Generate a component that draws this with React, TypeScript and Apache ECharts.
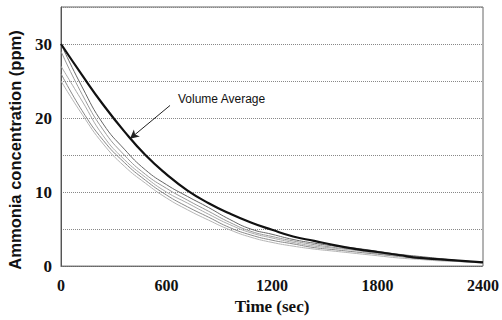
import React, { useEffect, useRef } from "react";
import * as echarts from "echarts";

const timesSec = [0, 120, 240, 360, 480, 600, 720, 840, 960, 1080, 1200, 1320, 1440, 1560, 1680, 1800, 1920, 2040, 2160, 2280, 2400];

const volumeAverage = [30, 25.8, 21.8, 18.2, 15.0, 12.4, 10.2, 8.5, 7.1, 5.9, 4.9, 4.0, 3.4, 2.8, 2.3, 1.9, 1.5, 1.1, 0.9, 0.7, 0.5];
const probe1 = [30, 24.2, 19.2, 15.8, 13.0, 11.0, 9.4, 7.9, 6.3, 5.0, 4.3, 3.6, 3.1, 2.7, 2.4, 2.0, 1.6, 1.3, 1.0, 0.7, 0.5];
const probe2 = [29, 23.2, 18.4, 15.0, 12.4, 10.5, 8.9, 7.4, 5.9, 4.7, 4.0, 3.4, 2.9, 2.5, 2.2, 1.8, 1.5, 1.2, 0.9, 0.7, 0.5];
const probe3 = [27, 22.3, 17.6, 14.4, 12.0, 10.0, 8.5, 7.0, 5.6, 4.5, 3.8, 3.2, 2.7, 2.4, 2.1, 1.7, 1.4, 1.1, 0.9, 0.7, 0.5];
const probe4 = [26, 21.0, 17.0, 14.0, 11.6, 9.6, 8.0, 6.6, 5.2, 4.2, 3.5, 3.0, 2.5, 2.2, 1.9, 1.6, 1.3, 1.0, 0.8, 0.6, 0.5];
const probe5 = [25, 20.5, 16.5, 13.5, 11.2, 9.2, 7.6, 6.2, 4.9, 3.9, 3.2, 2.7, 2.3, 2.0, 1.7, 1.4, 1.1, 0.9, 0.7, 0.6, 0.4];

const xTicks = [0, 600, 1200, 1800, 2400];
const yLabelTicks = [0, 10, 20, 30];

const arrowFrom = [620, 21.7];
const arrowTo = [392, 17.2];

const pairs = (vals: number[]) => timesSec.map((t, i) => [t, vals[i]]);

export default function App() {
  const ref = useRef<HTMLDivElement>(null);
  useEffect(() => {
    if (!ref.current) return;
    const chart = echarts.init(ref.current, undefined, { renderer: "svg" });
    const grays = [
      { d: probe1, c: "#666666" },
      { d: probe2, c: "#999999" },
      { d: probe3, c: "#aaaaaa" },
      { d: probe4, c: "#888888" },
      { d: probe5, c: "#b5b5b5" },
    ];
    chart.setOption({
      animation: false,
      backgroundColor: "#ffffff",
      grid: {
        left: 61,
        right: 19,
        top: 7,
        bottom: 51,
        show: true,
        borderColor: "#666666",
        borderWidth: 1,
      },
      xAxis: {
        type: "value",
        min: 0,
        max: 2400,
        interval: 600,
        name: "Time (sec)",
        nameLocation: "middle",
        nameGap: 28,
        nameTextStyle: { fontFamily: "Liberation Serif", fontWeight: "bold", fontSize: 17, color: "#111" },
        axisLine: { show: true, lineStyle: { color: "#666", type: "dotted" } },
        axisTick: { show: false },
        splitLine: { show: false },
        axisLabel: {
          margin: 11,
          fontFamily: "Liberation Serif",
          fontWeight: "bold",
          fontSize: 16,
          color: "#111",
          formatter: (v: number) => (xTicks.includes(v) ? String(v) : ""),
        },
      },
      yAxis: {
        type: "value",
        min: 0,
        max: 35,
        interval: 5,
        axisLine: { show: true, lineStyle: { color: "#555" } },
        axisTick: { show: false },
        splitLine: { show: true, lineStyle: { color: "#888", type: "dotted", width: 1 } },
        axisLabel: {
          margin: 9,
          fontFamily: "Liberation Serif",
          fontWeight: "bold",
          fontSize: 17,
          color: "#111",
          formatter: (v: number) => (yLabelTicks.includes(v) ? String(v) : ""),
        },
      },
      series: [
        ...grays.map((g, i) => ({
          name: "probe" + (i + 1),
          type: "line",
          data: pairs(g.d),
          smooth: true,
          showSymbol: false,
          lineStyle: { color: g.c, width: 1 },
        })),
        {
          name: "Volume Average",
          type: "line",
          data: pairs(volumeAverage),
          smooth: true,
          showSymbol: false,
          lineStyle: { color: "#111", width: 2.2 },
          z: 5,
          markLine: {
            silent: true,
            symbol: ["none", "arrow"],
            symbolSize: [7, 9],
            label: { show: false },
            lineStyle: { color: "#222", width: 1, type: "solid" },
            data: [[{ coord: arrowFrom }, { coord: arrowTo }]],
          },
        },
      ],
      graphic: [
        {
          type: "text",
          left: 178,
          top: 93,
          style: {
            text: "Volume Average",
            font: "12px 'Liberation Sans'",
            fill: "#111",
          },
        },
        {
          type: "text",
          x: 15,
          y: 150,
          rotation: Math.PI / 2,
          style: {
            text: "Ammonia concentration (ppm)",
            font: "bold 16.5px 'Liberation Sans'",
            fill: "#111",
            align: "center",
            verticalAlign: "middle",
          },
        },
      ],
    });
    return () => chart.dispose();
  }, []);
  return (
    <div
      ref={ref}
      style={{ position: "fixed", left: 0, top: 0, width: 502, height: 320 }}
    />
  );
}
